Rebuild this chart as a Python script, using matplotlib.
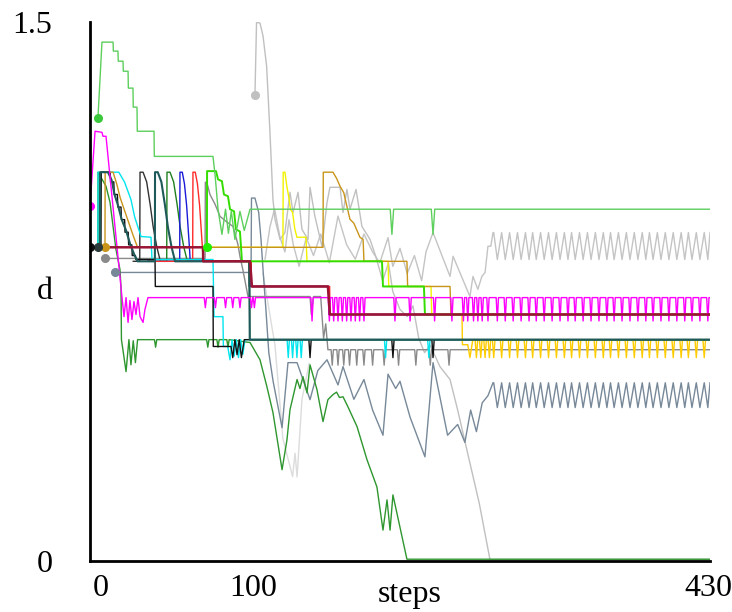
import matplotlib
matplotlib.use("Agg")
import matplotlib.pyplot as plt
from matplotlib.transforms import ScaledTranslation

plt.rcParams['font.family'] = ['Liberation Serif', 'DejaVu Serif']

# --- data (steps, d) ---
cycle_peaks = [280, 285.5, 291, 296.5, 302, 307, 312.5, 318, 323.5, 329, 334, 339.5, 345, 350.5,
               356, 361, 366.5, 372, 377.5, 383, 388, 393.5, 399, 404.5, 410, 415, 420.5, 426]
cycle_troughs = [282.5, 288, 293.5, 299, 304.5, 309.5, 315, 320.5, 326, 331.5, 336.5, 342, 347.5, 353,
                 358.5, 363.5, 369, 374.5, 380, 385.5, 390.5, 396, 401.5, 407, 412.5, 417.5, 423, 428.5]

lg_x = [5.5, 8.3, 16.0, 16.2, 19.4, 19.6, 22.9, 23.1, 26.4, 26.6, 29.8, 30.0, 32.6, 32.8, 44.4, 44.6,
        85.3, 86.7, 88.8, 91.5, 94.0, 96.0, 98.0, 100.5, 104.0, 107.0, 111.0]
lg_y = [1.232, 1.444, 1.444, 1.419, 1.419, 1.391, 1.391, 1.363, 1.363, 1.316, 1.316, 1.263, 1.263,
        1.196, 1.196, 1.126, 1.126, 1.076, 0.979, 0.909, 0.979, 0.912, 0.973, 0.895, 0.973, 0.920, 0.979]
lg_dips = [209.4, 237.9]

lime_x = [81.1, 81.2, 87.4, 88.8, 91.5, 92.9, 95.7, 97.1, 99.9, 101.2, 104.0, 105.4, 202.5, 203.2,
          231.6, 232.3, 430]
lime_y = [0.873, 1.085, 1.085, 1.062, 1.057, 1.020, 1.015, 0.979, 0.973, 0.923, 0.917, 0.834, 0.834,
          0.764, 0.764, 0.686, 0.686]

dr_x = [0, 78.4, 78.5, 111.0, 112.3, 165.0, 166.4, 430]
dr_y = [0.873, 0.873, 0.834, 0.834, 0.764, 0.764, 0.686, 0.686]

mg_x = [0, 3.5, 8.3, 9.0, 11.1, 22.2, 23.6, 25.0, 26.4, 27.7, 29.1, 30.5, 31.9, 33.3, 34.7, 36.8,
        38.1, 40.2, 43.0]
mg_y = [0.987, 1.196, 1.193, 1.182, 1.182, 0.733, 0.680, 0.733, 0.664, 0.725, 0.672, 0.722, 0.686,
        0.733, 0.680, 0.664, 0.700, 0.733, 0.733]
mg_dips_early = [80, 87, 94, 99, 104, 112, 114]
mg_dips = [154, 166, 169, 172, 175, 178, 181, 184, 187, 190, 211.5, 222, 239, 251, 259, 262, 266,
           269, 272, 276] + cycle_troughs

yl_x = [78.4, 133.8, 134.0, 135.2, 136.5, 138.0, 139.0, 140.5, 142.0, 143.5, 149.8, 150.5, 206.7,
        207.2, 236.5, 237.0]
yl_y = [0.873, 0.873, 1.082, 1.082, 1.043, 1.010, 0.979, 0.970, 0.925, 0.901, 0.901, 0.834, 0.834,
        0.764, 0.764, 0.686]
gd_x = [237.0, 258.0, 258.3, 262.0, 263.5, 265.5]
gd_y = [0.686, 0.686, 0.602, 0.602, 0.566, 0.616]
gd_dips = [268, 271, 274, 277] + cycle_peaks

bk_x = [0, 7.6, 7.8, 14.0, 14.3, 16.5, 16.8, 19.0, 19.3, 21.5, 21.8, 24.0, 24.3, 26.5, 26.8, 29.0,
        29.3, 31.5, 31.8, 45.1, 45.3, 85.3, 85.5, 97.8, 99.0, 100.5, 102.0, 103.5, 105.0, 107.0]
bk_y = [0.873, 0.873, 1.082, 1.082, 1.055, 1.055, 1.020, 1.020, 0.985, 0.985, 0.950, 0.950, 0.915,
        0.915, 0.880, 0.880, 0.850, 0.850, 0.839, 0.839, 0.764, 0.764, 0.597, 0.597, 0.566, 0.616,
        0.574, 0.616, 0.566, 0.616]
bk_dips = [152.6, 210.1, 237.9]

dsg_x = [5.5, 6.9, 7.0, 12.5, 15.0, 17.0, 19.4, 22.0, 25.0, 28.0, 31.0, 33.0, 45.0, 45.1, 47.0,
         49.5, 52.0, 54.0, 56.5, 59.0, 110.5, 110.8, 430]
dsg_y = [0.873, 0.873, 1.082, 1.082, 1.060, 1.020, 0.990, 0.950, 0.920, 0.880, 0.850, 0.834, 0.834,
         1.082, 1.082, 1.055, 0.990, 0.930, 0.875, 0.834, 0.834, 0.616, 0.616]

cy_x = [5.5, 5.6, 20.0, 24.0, 28.4, 31.0, 35.4, 42.3, 43.0, 85.3, 86.0, 92.2, 92.5, 95.5, 97.1,
        98.5, 100.0, 101.5, 103.0, 104.5, 106.0, 107.5]
cy_y = [0.873, 1.082, 1.082, 1.054, 1.006, 0.957, 0.903, 0.901, 0.839, 0.839, 0.680, 0.680, 0.597,
        0.597, 0.560, 0.616, 0.570, 0.616, 0.566, 0.616, 0.575, 0.616]
cy_dips = [137.5, 140.5, 143.5, 146.5, 205, 235]

gr_x = [10.4, 10.5, 16.0, 18.5, 21.0, 24.0, 27.0, 30.0, 33.0, 161.6, 161.8, 168.5, 171.0, 173.4,
        176.0, 178.0, 180.3, 183.0, 187.2, 189.4, 190.0, 219.8, 220.3, 249.7, 250.3, 430]
gr_y = [0.873, 1.082, 1.082, 1.050, 1.010, 0.975, 0.940, 0.905, 0.873, 0.873, 1.082, 1.082, 1.065,
        1.043, 1.025, 0.990, 0.951, 0.940, 0.901, 0.895, 0.834, 0.834, 0.764, 0.764, 0.686, 0.686]

gy_x = [10.4, 79.8, 80.0, 81.0, 83.2, 86.7, 90.2, 94.4, 99.2, 102.6, 104.0, 106.0, 109.6, 152.6,
        153.5, 155.0, 160.0, 162.0, 163.5, 165.0, 166.5]
gy_y = [0.842, 0.842, 1.054, 1.054, 1.020, 0.993, 0.959, 0.945, 0.931, 0.881, 0.848, 0.811, 0.736,
        0.736, 0.686, 0.736, 0.736, 0.620, 0.660, 0.588, 0.588]
gy_dips = [168, 172, 176, 180, 185, 190, 196, 204, 214, 226, 236, 249]

sg_x = [17.3, 111.7, 112.0, 114.4, 117.0, 118.6, 120.0, 122.0, 124.0, 127.0, 133.2, 137.3, 143.6,
        152.6, 158.0, 164.4, 172.0, 175.5, 183.0, 190.0, 196.0, 203.2, 206.7, 212.0, 215.0, 222.0,
        232.3, 237.9, 243.0, 248.0, 255.0, 260.0, 264.0, 268.0, 272.0, 276.0, 279.5]
sg_y = [0.803, 0.803, 1.010, 1.010, 0.970, 0.895, 0.811, 0.700, 0.580, 0.500, 0.371, 0.552, 0.552,
        0.449, 0.530, 0.560, 0.490, 0.541, 0.450, 0.505, 0.420, 0.350, 0.520, 0.480, 0.500, 0.400,
        0.290, 0.552, 0.450, 0.350, 0.380, 0.330, 0.420, 0.360, 0.440, 0.460, 0.496]

lp_x = [114.4, 115.5, 117.9, 120.0, 122.5, 124.8, 126.9, 128.3, 131.8, 135.2, 138.7, 140.8, 144.3,
        147.0, 151.2, 152.6, 156.0, 160.9, 164.4, 166.4, 173.4, 175.5, 178.2, 180.3, 184.5, 188.6,
        194.2, 198.0, 203.0, 207.0, 210.0, 215.0, 220.0, 224.0, 228.0, 232.0, 236.0, 242.7, 249.7,
        255.0, 261.4, 270.0, 277.4, 430]
lp_y = [1.296, 1.499, 1.497, 1.461, 1.377, 1.194, 1.006, 0.951, 0.895, 0.914, 1.026, 0.970, 1.026,
        0.923, 0.895, 1.040, 0.959, 0.875, 0.998, 1.040, 1.040, 0.970, 1.034, 0.979, 1.034, 0.931,
        0.895, 0.850, 0.780, 0.830, 0.750, 0.700, 0.680, 0.710, 0.620, 0.580, 0.600, 0.541, 0.505,
        0.420, 0.309, 0.160, 0.004, 0.004]

ls_x = [121.4, 124.8, 128.0, 131.8, 135.2, 138.0, 141.0, 145.0, 150.0, 155.0, 160.0, 166.0, 172.0,
        178.0, 184.0, 190.0, 196.0, 201.0, 206.7, 210.0, 215.0, 220.0, 225.0, 230.0, 233.0, 237.9,
        249.7, 251.8, 263.5, 265.6, 269.0, 271.8, 274.0, 276.0, 278.0, 279.5]
ls_y = [0.840, 0.930, 0.980, 0.900, 0.860, 0.950, 0.880, 0.820, 0.900, 0.850, 0.910, 0.830, 0.960,
        0.880, 0.840, 0.910, 0.860, 0.830, 0.900, 0.820, 0.870, 0.800, 0.850, 0.780, 0.860, 0.914,
        0.792, 0.848, 0.736, 0.792, 0.756, 0.792, 0.803, 0.876, 0.876, 0.914]

vl_x = [120.0, 128.3, 133.8, 140.5, 142.2, 143.6, 147.0, 152.0]
vl_y = [0.800, 0.600, 0.340, 0.235, 0.300, 0.234, 0.450, 0.550]

fg_x = [3.5, 5.5, 5.6, 11.1, 13.9, 16.0, 18.0, 20.8, 21.5, 21.8, 22.5, 25.0, 27.0, 28.4, 30.0, 31.5,
        33.0, 34.7]
fg_y = [0.873, 0.873, 1.082, 1.043, 0.998, 0.931, 0.867, 0.811, 0.761, 0.616, 0.597, 0.527, 0.616,
        0.546, 0.613, 0.552, 0.616, 0.616]
fg_dips = [45.5, 81.7, 88.8, 95.7]
fg_tail_x = [111.0, 117.9, 122.7, 126.9, 133.2, 136.6, 138.7, 140.8, 143.6, 145.6, 147.7, 150.5,
             152.6, 157.4, 161.6, 165.0, 168.5, 171.0, 173.0, 175.5, 178.9, 185.2, 192.1, 199.0,
             203.2, 206.0, 208.1, 210.1, 219.8, 430]
fg_tail_y = [0.608, 0.560, 0.485, 0.413, 0.254, 0.337, 0.421, 0.457, 0.505, 0.480, 0.513, 0.468,
             0.546, 0.477, 0.388, 0.449, 0.463, 0.470, 0.455, 0.457, 0.429, 0.374, 0.282, 0.206,
             0.086, 0.170, 0.086, 0.184, 0.005, 0.005]

fin_b_x = [30.0, 34.5, 34.7, 36.8, 39.3, 41.8, 43.8, 46.3, 48.8, 110.2, 110.4, 165.4, 165.6, 430]
fin_b_y = [0.834, 0.834, 1.082, 1.082, 1.055, 0.990, 0.930, 0.875, 0.834, 0.834, 0.764, 0.764,
           0.686, 0.686]
fin_g_x = [40.0, 53.2, 53.4, 55.5, 58.0, 60.5, 62.5, 65.0, 67.5, 110.5, 110.8, 430]
fin_g_y = [0.834, 0.834, 1.082, 1.082, 1.055, 0.990, 0.930, 0.875, 0.834, 0.834, 0.616, 0.616]
fin_bl_x = [40.0, 62.2, 62.4, 64.0, 65.5, 67.0, 68.0, 69.0, 69.5, 111.4, 111.6, 165.8, 166.0, 430]
fin_bl_y = [0.834, 0.834, 1.082, 1.082, 1.050, 0.990, 0.930, 0.870, 0.834, 0.834, 0.764, 0.764,
            0.686, 0.686]
fin_r_x = [40.0, 71.2, 71.4, 73.0, 74.5, 76.0, 77.0, 78.0, 78.5, 111.8, 112.0, 166.2, 166.4, 430]
fin_r_y = [0.834, 0.834, 1.082, 1.082, 1.050, 0.990, 0.930, 0.870, 0.834, 0.834, 0.764, 0.764,
           0.686, 0.686]


def with_dips(xs, ys, dips, low, half=0.8):
    xs, ys = list(xs), list(ys)
    top = ys[-1]
    for d in dips:
        xs += [d - half, d, d + half]
        ys += [top, low, top]
    return xs, ys


def sawtooth(xs, ys, hi, lo):
    pts = sorted([(p, hi) for p in cycle_peaks] + [(t, lo) for t in cycle_troughs])
    return list(xs) + [p for p, _ in pts] + [430], list(ys) + [v for _, v in pts] + [hi]


fig = plt.figure(figsize=(7.32, 6.12), dpi=100)
ax = fig.add_axes([90 / 732, 51 / 612, 620 / 732, 539 / 612])

lw = 1.0
# grey family underneath
ax.plot(vl_x, vl_y, color='#dcdcdc', lw=lw)
x, y = sawtooth(ls_x, ls_y, 0.914, 0.839)
ax.plot(x, y, color='#c4c4c4', lw=lw)
ax.plot(lp_x, lp_y, color='#c0c0c0', lw=lw)
x, y = sawtooth(sg_x, sg_y, 0.496, 0.427)
ax.plot(x, y, color='#778899', lw=lw)
x, y = with_dips(gy_x, gy_y, gy_dips, 0.545)
ax.plot(x + [430], y + [0.588], color='#8a8a8a', lw=lw)

# forest green that falls to zero
x, y = with_dips(fg_x, fg_y, fg_dips, 0.595)
ax.plot(x + fg_tail_x, y + fg_tail_y, color='#2e962e', lw=lw)

# the fins
ax.plot(fin_b_x, fin_b_y, color='#333333', lw=lw)
ax.plot(fin_g_x, fin_g_y, color='#1e801e', lw=lw)
ax.plot(fin_bl_x, fin_bl_y, color='#1a1ad8', lw=lw)
ax.plot(fin_r_x, fin_r_y, color='#ff2a2a', lw=lw)

# gold / yellow
x, y = with_dips(gd_x, gd_y, gd_dips, 0.566, half=0.9)
ax.plot(x + [430], y + [0.616], color='#ffcc00', lw=lw)
ax.plot(yl_x, yl_y, color='#f2f200', lw=lw)

x, y = with_dips(cy_x, cy_y, cy_dips, 0.566)
ax.plot(x + [430], y + [0.616], color='#00e5ee', lw=lw)
x, y = with_dips(bk_x, bk_y, bk_dips, 0.566)
ax.plot(x + [430], y + [0.616], color='#111111', lw=lw)
ax.plot(gr_x, gr_y, color='#c8951a', lw=lw)
ax.plot(dsg_x, dsg_y, color='#1f5a5a', lw=1.5)

ax.plot(lime_x, lime_y, color='#33dd00', lw=1.4)
x, y = with_dips(lg_x, lg_y, lg_dips, 0.909, half=1.2)
ax.plot(x + [430], y + [0.979], color='#5ccf5c', lw=lw)

x, y = with_dips(mg_x, mg_y, mg_dips_early, 0.705)
x, y = with_dips(x, y, mg_dips, 0.668)
ax.plot(x + [430], y + [0.733], color='#ff00ff', lw=lw)

ax.plot(dr_x, dr_y, color='#9a1434', lw=1.8)

# start markers
ms = 5.5
ax.plot(lp_x[0], lp_y[0], 'o', color='#c0c0c0', ms=ms)
ax.plot(sg_x[0], sg_y[0], 'o', color='#778899', ms=ms)
ax.plot(gy_x[0], gy_y[0], 'o', color='#8a8a8a', ms=ms)
ax.plot(gr_x[0], gr_y[0], 'o', color='#c8951a', ms=ms)
ax.plot(dsg_x[0], dsg_y[0], 'o', color='#2a3a3a', ms=ms)
ax.plot(bk_x[0], bk_y[0], 'o', color='#111111', ms=ms)
ax.plot(mg_x[0], mg_y[0], 'o', color='#ff00ff', ms=ms)
ax.plot(lg_x[0], lg_y[0], 'o', color='#3cc83c', ms=ms)
ax.plot(lime_x[0], lime_y[0], 'o', color='#22ee00', ms=ms)

ax.set_xlim(0, 430)
ax.set_ylim(0, 1.5)
for s in ('top', 'right'):
    ax.spines[s].set_visible(False)
for s in ('left', 'bottom'):
    ax.spines[s].set_linewidth(2.0)

ax.set_yticks([0, 1.5])
ax.set_yticklabels(['0', '1.5'])
ax.set_xticks([0, 100, 430])
ax.set_xticklabels(['0', '100', '430'])
ax.tick_params(axis='both', length=0, labelsize=23)
ax.tick_params(axis='y', pad=27)
ax.tick_params(axis='x', pad=9)
for lab, dx in zip(ax.get_xticklabels(), [11, 19, -2]):
    lab.set_transform(lab.get_transform() + ScaledTranslation(dx / 100, 0, fig.dpi_scale_trans))

ax.set_ylabel('d', rotation=0, fontsize=23, va='center', ha='center')
ax.yaxis.set_label_coords(-0.073, 0.5)
ax.set_xlabel('steps', fontsize=23, va='baseline', ha='center')
ax.xaxis.set_label_coords(0.516, -0.076)

fig.savefig('out.png', dpi=100)
